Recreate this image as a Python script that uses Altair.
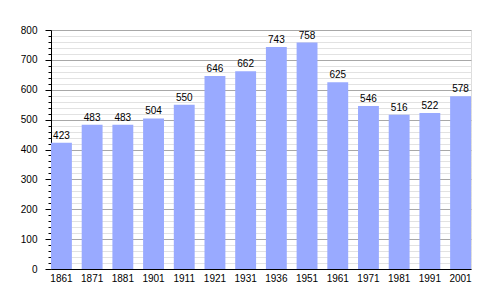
import altair as alt
import pandas as pd

years = ["1861", "1871", "1881", "1901", "1911", "1921", "1931", "1936",
         "1951", "1961", "1971", "1981", "1991", "2001"]
population = [423, 483, 483, 504, 550, 646, 662, 743, 758, 625, 546, 516, 522, 578]
y_ticks = list(range(0, 801, 20))

df = pd.DataFrame({"year": years, "pop": population})

FONT = "Liberation Sans"

x = alt.X("year:N", sort=years, title=None,
          scale=alt.Scale(paddingInner=0.32, paddingOuter=0),
          axis=alt.Axis(labelAngle=0, ticks=False, domainColor="#000", domainWidth=1,
                        labelFont=FONT, labelFontSize=10, labelColor="#000", labelPadding=4))
y = alt.Y("pop:Q", title=None,
          scale=alt.Scale(domain=[0, 800], nice=False),
          axis=alt.Axis(values=y_ticks, tickCount=100, grid=True,
                        gridColor={"condition": {"test": "datum.value % 100 === 0", "value": "#a8a8a8"}, "value": "#e2e2e2"},
                        tickSize={"condition": {"test": "datum.value % 100 === 0", "value": 6}, "value": 3},
                        tickColor="#000", domainColor="#000",
                        labelExpr="datum.value % 100 === 0 ? datum.label : ''",
                        labelOverlap=False, labelFont=FONT, labelFontSize=10,
                        labelColor="#000", labelPadding=8))

bars = alt.Chart(df).mark_bar(color="#99aaff").encode(x=x, y=y)
labels = alt.Chart(df).mark_text(font=FONT, fontSize=10, color="#000",
                                 baseline="alphabetic", dy=-4).encode(
    x=alt.X("year:N", sort=years), y="pop:Q", text="pop:Q")

chart = alt.layer(bars, labels).properties(
    width=420, height=239,
    autosize=alt.AutoSizeParams(type="none"),
    padding={"left": 51, "top": 30, "right": 29, "bottom": 31},
).configure_view(stroke=None).configure(background="#ffffff")

chart.save("out.html", embed_options={"renderer": "svg", "actions": False})
